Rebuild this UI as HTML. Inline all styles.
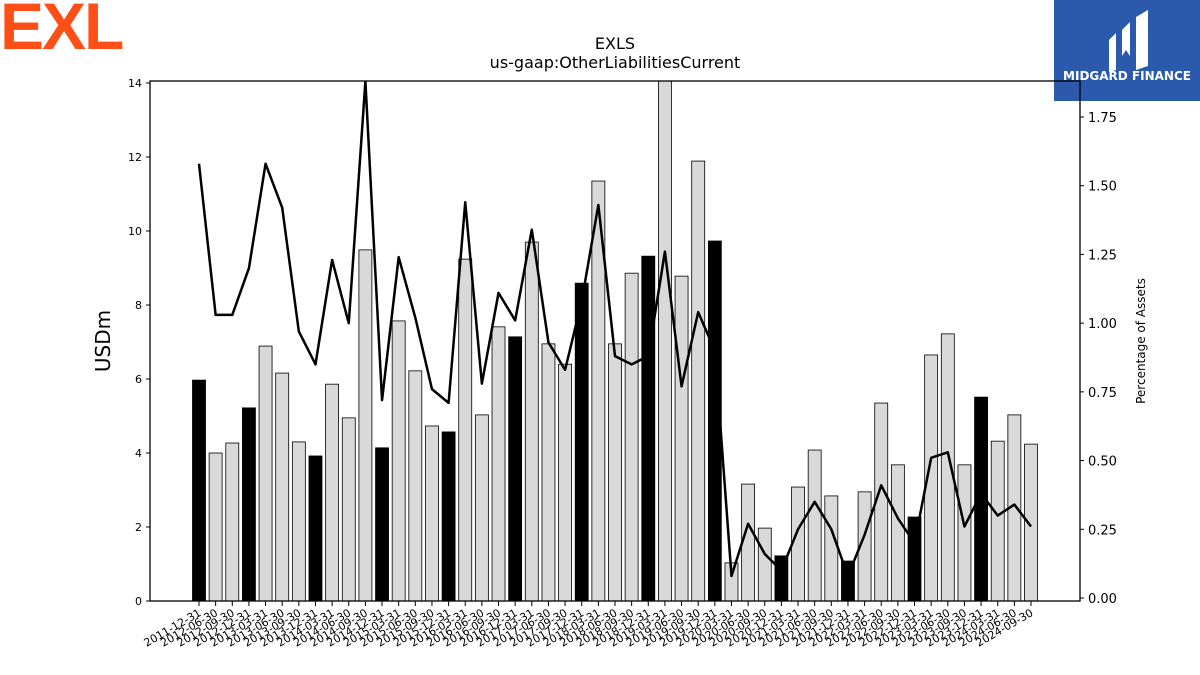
<!DOCTYPE html>
<html><head><meta charset="utf-8"><style>
body{margin:0;background:#fff;font-family:"DejaVu Sans","Liberation Sans",sans-serif}
#wrap{position:relative;width:1200px;height:675px;overflow:hidden}
</style></head><body>
<div id="wrap">
<div style="position:absolute;left:0;top:-12px;font:bold 66px 'Liberation Sans',sans-serif;color:#ff4f17;letter-spacing:-2px">EXL</div>
<div style="position:absolute;left:1054px;top:0;width:146px;height:101px;background:#2b5aad">
<svg width="146" height="101"><path d="M55 40 L62 33 L62 70 L55 72 Z M68 30 L76 22 L76 56 L72 50 L68 56 Z M82 17 L94 10 L94 66 L82 70 Z" fill="#fff"/></svg>
<div style="position:absolute;left:0;width:146px;top:69px;text-align:center;color:#fff;font:bold 12px 'DejaVu Sans',sans-serif">MIDGARD FINANCE</div>
</div>
<svg id="chart" width="1200" height="675" style="position:absolute;left:0;top:0"></svg>
</div>
<script>
const categories=["2011-12-31","2012-06-30","2012-09-30","2012-12-31","2013-03-31","2013-06-30","2013-09-30","2013-12-31","2014-03-31","2014-06-30","2014-09-30","2014-12-31","2015-03-31","2015-06-30","2015-09-30","2015-12-31","2016-03-31","2016-06-30","2016-09-30","2016-12-31","2017-03-31","2017-06-30","2017-09-30","2017-12-31","2018-03-31","2018-06-30","2018-09-30","2018-12-31","2019-03-31","2019-06-30","2019-09-30","2019-12-31","2020-03-31","2020-06-30","2020-09-30","2020-12-31","2021-03-31","2021-06-30","2021-09-30","2021-12-31","2022-03-31","2022-06-30","2022-09-30","2022-12-31","2023-03-31","2023-06-30","2023-09-30","2023-12-31","2024-03-31","2024-06-30","2024-09-30"];
const barValues=[5.97,4.0,4.27,5.22,6.89,6.16,4.3,3.92,5.86,4.95,9.49,4.14,7.57,6.22,4.73,4.57,9.24,5.03,7.41,7.14,9.70,6.95,6.4,8.59,11.35,6.95,8.86,9.32,14.3,8.78,11.89,9.73,1.03,3.16,1.97,1.22,3.08,4.08,2.84,1.08,2.95,5.35,3.68,2.27,6.65,7.22,3.68,5.51,4.32,5.03,4.24];
const pctValues=[1.58,1.03,1.03,1.20,1.58,1.42,0.97,0.85,1.23,1.00,1.88,0.72,1.24,1.02,0.76,0.71,1.44,0.78,1.11,1.01,1.34,0.93,0.83,1.08,1.43,0.88,0.85,0.88,1.26,0.77,1.04,0.90,0.08,0.27,0.16,0.10,0.25,0.35,0.25,0.08,0.23,0.41,0.29,0.20,0.51,0.53,0.26,0.38,0.30,0.34,0.26];
const leftTicks=[0,2,4,6,8,10,12,14];
const rightTicks=[0,0.25,0.5,0.75,1.0,1.25,1.5,1.75];
const NS="http://www.w3.org/2000/svg",svg=document.getElementById('chart');
const L=150,R=1080,T=81,B=601;
const x=i=>199+i*(1031-199)/(categories.length-1);
const yL=v=>B-v*(B-83)/14;
const yR=v=>598-v*(598-117)/1.75;
function el(t,a,p){const e=document.createElementNS(NS,t);for(const k in a)e.setAttribute(k,a[k]);(p||svg).appendChild(e);return e;}
const clip=el('clipPath',{id:'pc'});el('rect',{x:L,y:T,width:R-L,height:B-T},clip);
const g=el('g',{'clip-path':'url(#pc)'});
barValues.forEach((v,i)=>{const q=categories[i].slice(5)==="12-31";
const r=el('rect',{x:x(i)-6.5,y:yL(v),width:13,height:B-yL(v),fill:q?'#000':'#d9d9d9',stroke:'#000','stroke-width':0.8},g);

});
const line=el('polyline',{points:pctValues.map((v,i)=>x(i)+','+yR(v)).join(' '),fill:'none',stroke:'#000','stroke-width':2.5,'stroke-linejoin':'round'},g);


const fr=el('rect',{x:L,y:T,width:R-L,height:B-T,fill:'none',stroke:'#000','stroke-width':1.3});


leftTicks.forEach(v=>{el('line',{x1:L-4,x2:L,y1:yL(v),y2:yL(v),stroke:'#000'});
const t=el('text',{x:L-8,y:yL(v)+4,'text-anchor':'end','font-size':11});t.textContent=v;

});
rightTicks.forEach(v=>{el('line',{x1:R,x2:R+4,y1:yR(v),y2:yR(v),stroke:'#000'});
const t=el('text',{x:R+8,y:yR(v)+5,'font-size':13});t.textContent=v.toFixed(2);

});
categories.forEach((c,i)=>{el('line',{x1:x(i),x2:x(i),y1:B,y2:B+5,stroke:'#000'});
const t=el('text',{x:x(i)+3,y:B+14,'text-anchor':'end','font-size':11,transform:`rotate(-30 ${x(i)+3} ${B+14})`});t.textContent=c;

});
const yt=el('text',{x:110,y:341,'font-size':20,'text-anchor':'middle',transform:'rotate(-90 110 341)'});yt.textContent='USDm';


const rt=el('text',{x:1145,y:341,'font-size':12,'text-anchor':'middle',transform:'rotate(-90 1145 341)'});rt.textContent='Percentage of Assets';


const t1=el('text',{x:615,y:49,'font-size':16,'text-anchor':'middle'});t1.textContent='EXLS';


const t2=el('text',{x:615,y:68,'font-size':16,'text-anchor':'middle'});t2.textContent='us-gaap:OtherLiabilitiesCurrent';


</script>
</body></html>
